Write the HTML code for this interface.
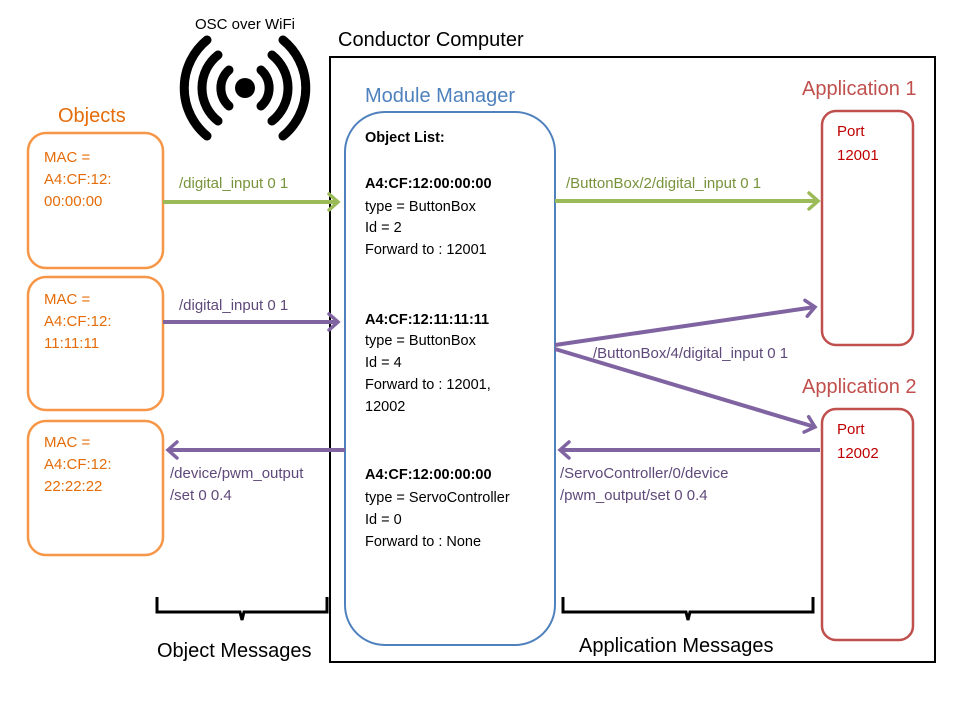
<!DOCTYPE html>
<html><head><style>
body{margin:0;background:#fff;width:960px;height:720px;overflow:hidden}
svg text{font-family:"Liberation Sans",sans-serif}
</style></head><body>
<svg width="960" height="720" xmlns="http://www.w3.org/2000/svg">
<defs>
<marker id="ag" markerWidth="24" markerHeight="24" refX="13" refY="12" orient="auto" markerUnits="userSpaceOnUse" overflow="visible"><path d="M4,4 L13,12 L4,20" fill="none" stroke="#9bbb59" stroke-width="3.5" stroke-linecap="round"/></marker>
<marker id="ap" markerWidth="24" markerHeight="24" refX="13" refY="12" orient="auto" markerUnits="userSpaceOnUse" overflow="visible"><path d="M4,4 L13,12 L4,20" fill="none" stroke="#8064a2" stroke-width="3.5" stroke-linecap="round"/></marker>
</defs>
<text x="245" y="29" font-size="15" text-anchor="middle">OSC over WiFi</text>
<circle cx="245" cy="88" r="10" fill="#000"/>
<g fill="none" stroke="#000" stroke-width="9" stroke-linecap="round">
<path d="M229,70 A24,24 0 0 0 229,106"/><path d="M261,70 A24,24 0 0 1 261,106"/>
<path d="M218,55 A42,42 0 0 0 218,121"/><path d="M272,55 A42,42 0 0 1 272,121"/>
<path d="M207,40 A62,62 0 0 0 207,136"/><path d="M283,40 A62,62 0 0 1 283,136"/>
</g>
<text x="338" y="46" font-size="20">Conductor Computer</text>
<rect x="330" y="57" width="605" height="605" fill="none" stroke="#000" stroke-width="2"/>
<text x="365" y="102" font-size="20" fill="#4f81bd">Module Manager</text>
<rect x="345" y="112" width="210" height="533" rx="40" fill="none" stroke="#4f81bd" stroke-width="2"/>
<g font-size="14.5">
<text x="365" y="142" font-weight="bold">Object List:</text>
<text x="365" y="188" font-weight="bold">A4:CF:12:00:00:00</text>
<text x="365" y="211">type = ButtonBox</text>
<text x="365" y="232">Id = 2</text>
<text x="365" y="254">Forward to : 12001</text>
<text x="365" y="324" font-weight="bold">A4:CF:12:11:11:11</text>
<text x="365" y="345">type = ButtonBox</text>
<text x="365" y="367">Id = 4</text>
<text x="365" y="389">Forward to : 12001,</text>
<text x="365" y="411">12002</text>
<text x="365" y="479" font-weight="bold">A4:CF:12:00:00:00</text>
<text x="365" y="502">type = ServoController</text>
<text x="365" y="524">Id = 0</text>
<text x="365" y="546">Forward to : None</text>
</g>
<text x="58" y="122" font-size="20" fill="#e46c0a">Objects</text>
<g fill="none" stroke="#f79646" stroke-width="2.5">
<rect x="28" y="133" width="135" height="135" rx="18"/>
<rect x="28" y="277" width="135" height="133" rx="18"/>
<rect x="28" y="421" width="135" height="134" rx="18"/>
</g>
<g font-size="15" fill="#e46c0a">
<text x="44" y="162">MAC =</text><text x="44" y="184">A4:CF:12:</text><text x="44" y="206">00:00:00</text>
<text x="44" y="304">MAC =</text><text x="44" y="326">A4:CF:12:</text><text x="44" y="348">11:11:11</text>
<text x="44" y="447">MAC =</text><text x="44" y="469">A4:CF:12:</text><text x="44" y="491">22:22:22</text>
</g>
<text x="802" y="95" font-size="20" fill="#c0504d">Application 1</text>
<text x="802" y="393" font-size="20" fill="#c0504d">Application 2</text>
<g fill="none" stroke="#c0504d" stroke-width="2.5">
<rect x="822" y="111" width="91" height="234" rx="14"/>
<rect x="822" y="409" width="91" height="231" rx="14"/>
</g>
<g font-size="15" fill="#c00000">
<text x="837" y="136">Port</text><text x="837" y="160">12001</text>
<text x="837" y="434">Port</text><text x="837" y="458">12002</text>
</g>
<g stroke-width="4" fill="none">
<line x1="163" y1="202" x2="338" y2="202" stroke="#9bbb59" marker-end="url(#ag)"/>
<line x1="555" y1="201" x2="818" y2="201" stroke="#9bbb59" marker-end="url(#ag)"/>
<line x1="163" y1="322" x2="338" y2="322" stroke="#8064a2" marker-end="url(#ap)"/>
<line x1="555" y1="345" x2="815" y2="307" stroke="#8064a2" marker-end="url(#ap)"/>
<line x1="555" y1="349" x2="815" y2="427" stroke="#8064a2" marker-end="url(#ap)"/>
<line x1="345" y1="450" x2="168" y2="450" stroke="#8064a2" marker-end="url(#ap)"/>
<line x1="820" y1="450" x2="560" y2="450" stroke="#8064a2" marker-end="url(#ap)"/>
</g>
<g font-size="15">
<text x="179" y="188" fill="#77933c">/digital_input 0 1</text>
<text x="566" y="188" fill="#77933c">/ButtonBox/2/digital_input 0 1</text>
<text x="179" y="310" fill="#5f497a">/digital_input 0 1</text>
<text x="593" y="358" fill="#5f497a">/ButtonBox/4/digital_input 0 1</text>
<text x="170" y="478" fill="#5f497a">/device/pwm_output</text>
<text x="170" y="500" fill="#5f497a">/set 0 0.4</text>
<text x="560" y="478" fill="#5f497a">/ServoController/0/device</text>
<text x="560" y="500" fill="#5f497a">/pwm_output/set 0 0.4</text>
</g>
<g fill="none" stroke="#000" stroke-width="3">
<path d="M157,597 L157,612 L240,612 L242,620 L244,612 L327,612 L327,597"/>
<path d="M563,597 L563,612 L686,612 L688,620 L690,612 L813,612 L813,597"/>
</g>
<text x="157" y="657" font-size="20">Object Messages</text>
<text x="579" y="652" font-size="20">Application Messages</text>
</svg>
</body></html>
